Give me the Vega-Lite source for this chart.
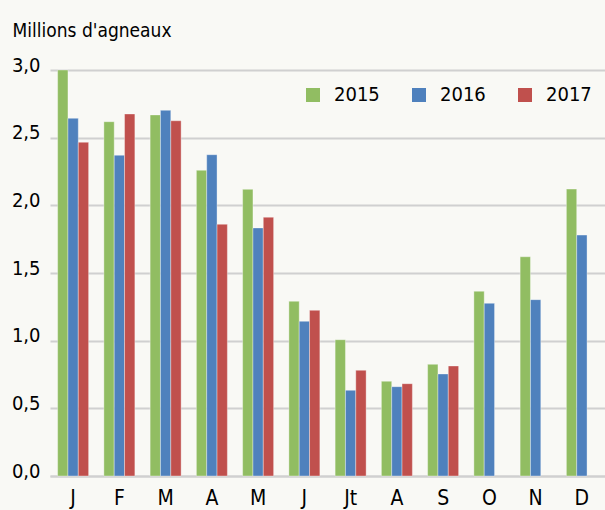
{
  "$schema": "https://vega.github.io/schema/vega-lite/v6.json",
  "width": 555,
  "height": 406,
  "autosize": {"type": "none"},
  "padding": {"left": 50, "top": 70, "right": 0, "bottom": 34},
  "background": "#f9f9f5",
  "data": {
    "values": [
      {"m": 1, "annee": "2015", "v": 3.0}, {"m": 1, "annee": "2016", "v": 2.643}, {"m": 1, "annee": "2017", "v": 2.466},
      {"m": 2, "annee": "2015", "v": 2.618}, {"m": 2, "annee": "2016", "v": 2.37}, {"m": 2, "annee": "2017", "v": 2.675},
      {"m": 3, "annee": "2015", "v": 2.668}, {"m": 3, "annee": "2016", "v": 2.702}, {"m": 3, "annee": "2017", "v": 2.625},
      {"m": 4, "annee": "2015", "v": 2.259}, {"m": 4, "annee": "2016", "v": 2.374}, {"m": 4, "annee": "2017", "v": 1.86},
      {"m": 5, "annee": "2015", "v": 2.118}, {"m": 5, "annee": "2016", "v": 1.833}, {"m": 5, "annee": "2017", "v": 1.912},
      {"m": 6, "annee": "2015", "v": 1.291}, {"m": 6, "annee": "2016", "v": 1.143}, {"m": 6, "annee": "2017", "v": 1.224},
      {"m": 7, "annee": "2015", "v": 1.007}, {"m": 7, "annee": "2016", "v": 0.633}, {"m": 7, "annee": "2017", "v": 0.781},
      {"m": 8, "annee": "2015", "v": 0.7}, {"m": 8, "annee": "2016", "v": 0.66}, {"m": 8, "annee": "2017", "v": 0.682},
      {"m": 9, "annee": "2015", "v": 0.825}, {"m": 9, "annee": "2016", "v": 0.754}, {"m": 9, "annee": "2017", "v": 0.813},
      {"m": 10, "annee": "2015", "v": 1.365}, {"m": 10, "annee": "2016", "v": 1.276},
      {"m": 11, "annee": "2015", "v": 1.62}, {"m": 11, "annee": "2016", "v": 1.303},
      {"m": 12, "annee": "2015", "v": 2.12}, {"m": 12, "annee": "2016", "v": 1.78}
    ]
  },
  "mark": {"type": "bar", "stroke": "#ffffff", "strokeWidth": 1, "strokeOpacity": 0.35},
  "encoding": {
    "x": {
      "field": "m",
      "type": "ordinal",
      "scale": {"paddingInner": 0.33, "paddingOuter": 0.165},
      "axis": {
        "title": null,
        "labelAngle": 0,
        "labelExpr": "['J','F','M','A','M','J','Jt','A','S','O','N','D'][datum.value-1]",
        "labelFontSize": 21,
        "labelPadding": 11,
        "ticks": false,
        "domainColor": "#d0d0d0",
        "domainWidth": 2,
        "grid": false
      }
    },
    "xOffset": {"field": "annee", "type": "nominal", "scale": {"paddingInner": 0, "paddingOuter": 0}},
    "y": {
      "field": "v",
      "type": "quantitative",
      "scale": {"domain": [0, 3], "nice": false},
      "axis": {
        "values": [0, 0.5, 1, 1.5, 2, 2.5, 3],
        "labelExpr": "replace(format(datum.value, '.1f'), '.', ',')",
        "labelFontSize": 20,
        "labelPadding": 10,
        "labelOffset": -5,
        "ticks": false,
        "domain": false,
        "gridColor": "#d0d0d0",
        "gridWidth": 2,
        "title": "Millions d'agneaux",
        "titleAngle": 0,
        "titleAlign": "left",
        "titleBaseline": "alphabetic",
        "titleX": -38,
        "titleY": -34,
        "titleFontSize": 19,
        "titleFontWeight": "normal"
      }
    },
    "color": {
      "field": "annee",
      "type": "nominal",
      "scale": {"domain": ["2015", "2016", "2017"], "range": ["#91bd62", "#4f81bd", "#c0504d"]},
      "legend": {
        "title": null,
        "orient": "none",
        "direction": "horizontal",
        "legendX": 253,
        "legendY": 15,
        "symbolType": "square",
        "symbolSize": 196,
        "symbolStrokeWidth": 0,
        "labelFontSize": 20,
        "labelOffset": 11,
        "columnPadding": 29,
        "padding": 0
      }
    }
  },
  "config": {
    "font": "DejaVu Sans Condensed, sans-serif",
    "axis": {"labelColor": "#000000", "titleColor": "#000000", "labelFont": "DejaVu Sans Condensed, sans-serif", "titleFont": "DejaVu Sans Condensed, sans-serif"},
    "legend": {"labelColor": "#000000", "labelFont": "DejaVu Sans Condensed, sans-serif"},
    "view": {"stroke": null}
  }
}
